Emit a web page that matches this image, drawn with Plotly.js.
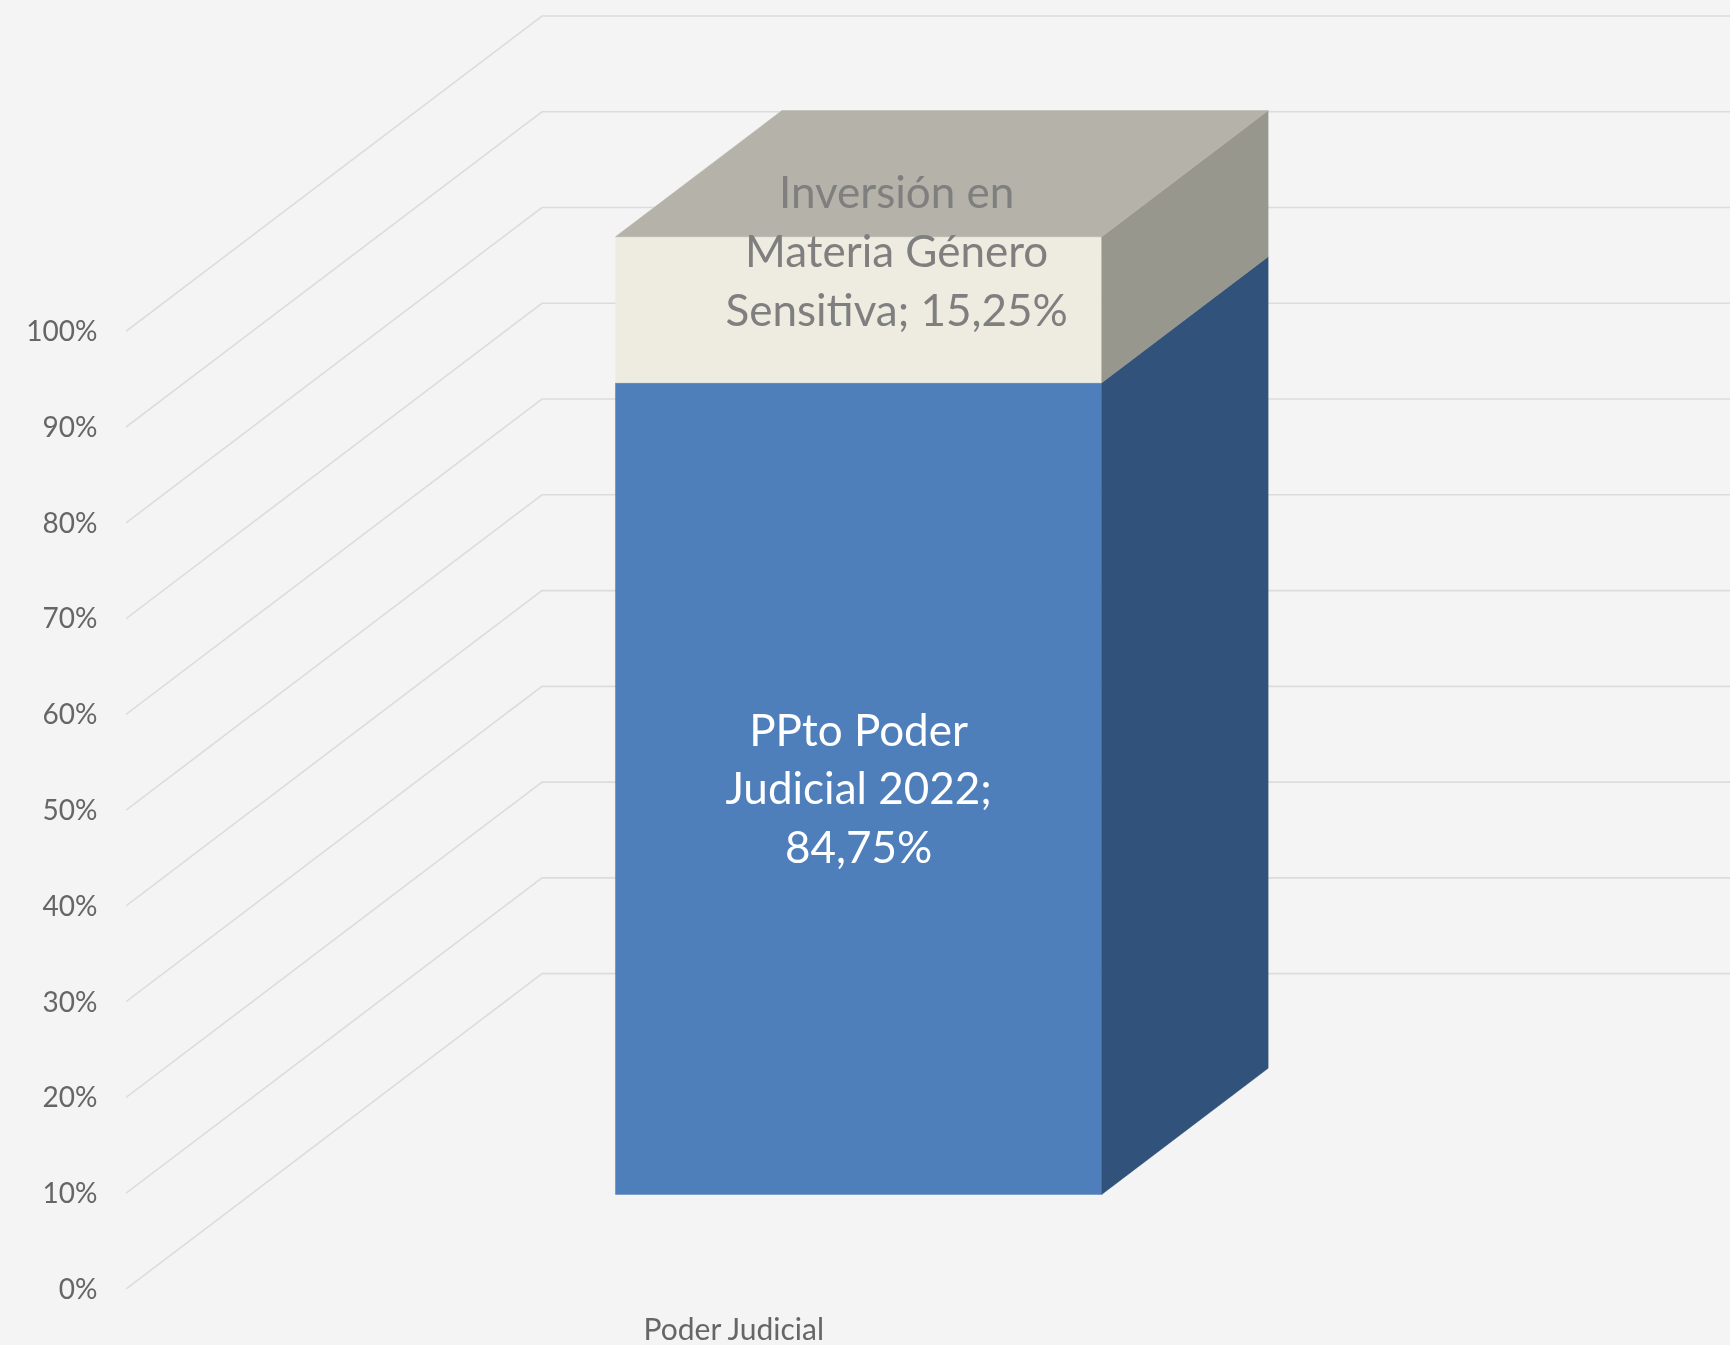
<!DOCTYPE html>
<html>
<head>
<meta charset="utf-8">
<script src="https://cdn.plot.ly/plotly-3.0.1.min.js"></script>
<style>html,body{margin:0;padding:0;background:#f4f4f4;overflow:hidden}#chart{width:1730px;height:1345px;filter:blur(0.6px)}</style>
</head>
<body>
<div id="chart"></div>
<script>
// Data
const categories = ['Poder Judicial'];
const seriesNames = ['PPto Poder Judicial 2022', 'Inversión en Materia Género Sensitiva'];
const ppto = [84.75];
const genero = [15.25];
const labelPpto = ['PPto Poder', 'Judicial 2022;', '84,75%'];
const labelGenero = ['Inversión en', 'Materia Género', 'Sensitiva; 15,25%'];
const yTicks = [0, 10, 20, 30, 40, 50, 60, 70, 80, 90, 100];
const yTickLabels = ['0%', '10%', '20%', '30%', '40%', '50%', '60%', '70%', '80%', '90%', '100%'];

// Oblique projection of the 3-D column chart, in axis units
const DEPTH_X = 0.3422, DEPTH_Y = 32.93;
const BAR_W = 0.4, Z0 = 0.3, Z1 = 0.7;
const LINE_STEP = 6.14;
const project = (x, y, z) => [x + z * DEPTH_X, y + z * DEPTH_Y];
const poly = (pts, color, name) => {
  const p = pts.map(a => project(a[0], a[1], a[2]));
  return {
    type: 'scatter', mode: 'lines', name, fill: 'toself', fillcolor: color,
    x: p.map(a => a[0]), y: p.map(a => a[1]),
    line: {width: 0.5, color}, hoverinfo: 'skip', showlegend: false, cliponaxis: false
  };
};

const traces = [];
// Gridlines: side wall, then back wall
yTicks.forEach(v => {
  const a = project(-0.5, v, 0), b = project(-0.5, v, 1), c = project(0.5, v, 1);
  traces.push({
    type: 'scatter', mode: 'lines', x: [a[0], b[0], c[0]], y: [a[1], b[1], c[1]],
    line: {color: '#dcdcdc', width: 1.6}, hoverinfo: 'skip', showlegend: false, cliponaxis: false
  });
});

// Box faces for each stacked segment
const xl = -BAR_W / 2, xr = BAR_W / 2;
const stack = [
  {from: 0, to: ppto[0], front: '#4e7fbb', side: '#31527a', name: seriesNames[0]},
  {from: ppto[0], to: ppto[0] + genero[0], front: '#eeece1', side: '#97978e', top: '#b5b2a9', name: seriesNames[1]}
];
stack.forEach(s => {
  traces.push(poly([[xl, s.from, Z0], [xr, s.from, Z0], [xr, s.to, Z0], [xl, s.to, Z0], [xl, s.from, Z0]], s.front, s.name));
  traces.push(poly([[xr, s.from, Z0], [xr, s.from, Z1], [xr, s.to, Z1], [xr, s.to, Z0], [xr, s.from, Z0]], s.side, s.name));
  if (s.top) traces.push(poly([[xl, s.to, Z0], [xr, s.to, Z0], [xr, s.to, Z1], [xl, s.to, Z1], [xl, s.to, Z0]], s.top, s.name));
});

// Data labels: one text point per line, so the line spacing can follow the reference
const labelTrace = (lines, centre, color) => ({
  type: 'scatter', mode: 'text',
  x: lines.map(() => centre[0]),
  y: lines.map((_, i) => centre[1] + (1 - i) * LINE_STEP),
  text: lines, textposition: 'middle center',
  textfont: {family: 'Lato', size: 44, color},
  hoverinfo: 'skip', showlegend: false, cliponaxis: false
});
const lblA = project(0, ppto[0] / 2 - 0.5, Z0);
const lblB = project(-0.031, ppto[0] + genero[0] / 2 - 0.4, Z0 + 0.182);
traces.push(labelTrace(labelPpto, lblA, '#ffffff'));
traces.push(labelTrace(labelGenero, lblB, '#7f7f7f'));

const layout = {
  width: 1730, height: 1345,
  margin: {l: 126, r: 0, t: 0, b: 55.5, pad: 0},
  paper_bgcolor: '#f4f4f4', plot_bgcolor: '#f4f4f4',
  showlegend: false,
  xaxis: {
    range: [-0.5, 0.8195], tickmode: 'array', tickvals: [0], ticktext: categories,
    showgrid: false, zeroline: false, showline: false, ticks: 'outside', ticklen: 14, tickcolor: 'rgba(0,0,0,0)',
    tickfont: {family: 'Lato', size: 30, color: '#666666'}, fixedrange: true
  },
  yaxis: {
    range: [0, 134.6], tickmode: 'array', tickvals: yTicks, ticktext: yTickLabels,
    showgrid: false, zeroline: false, showline: false, ticks: 'outside', ticklen: 22, tickcolor: 'rgba(0,0,0,0)',
    ticklabelshift: 1.5,
    tickfont: {family: 'Lato', size: 28, color: '#666666'}, fixedrange: true
  }
};
Plotly.newPlot('chart', traces, layout, {displayModeBar: false, staticPlot: true});
</script>
</body>
</html>
